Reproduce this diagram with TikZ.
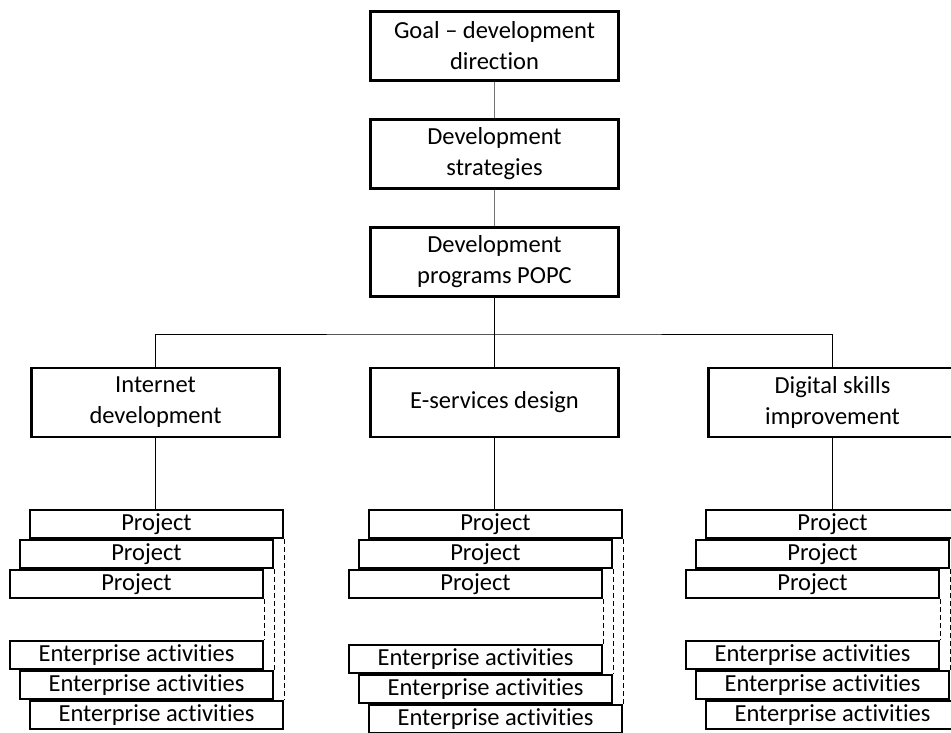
\documentclass[tikz,border=0pt]{standalone}
\usepackage{fontspec}
\setmainfont{Carlito}[Ligatures={TeX,NoCommon}]
\usetikzlibrary{positioning}

\begin{document}
\begin{tikzpicture}[x=1pt,y=-1pt]
\tikzset{box/.style={draw, line width=2.6pt, minimum width=248pt, minimum height=69pt, inner sep=0pt, align=center, font=\fontsize{24.5}{31}\selectfont}}
\tikzset{proj/.style={draw, fill=white, line width=2.2pt, minimum width=253pt, minimum height=28pt, inner sep=0pt, font=\fontsize{24.5}{28}\selectfont}}
\tikzset{link/.style={draw=black!55, line width=1pt}}
\tikzset{bus/.style={draw=black, line width=1pt}}
\tikzset{stack/.style={dash pattern=on 5pt off 3pt, line width=1.2pt}}

\useasboundingbox (0,0) rectangle (951,733);
\clip (0,0) rectangle (951,733);

\node[box] (goal) at (494.5,46) {Goal -- development\\direction};
\node[box] (strat) at (494.5,154) {Development\\strategies};
\node[box] (prog) at (494.5,262) {Development\\programs POPC};

\node[box] (inet) at (155.5,402.5) {Internet\\development};
\node[box] (eserv) at (494.5,402.5) {E-services design};
\node[box] (digit) at (832.5,402.5) {Digital skills\\improvement};

\node[proj] (ip1) at (156.5,524) {Project};
\node[proj] (ip2) at (146.5,554) {Project};
\node[proj] (ip3) at (136.5,584) {Project};
\node[proj] (ie1) at (136.5,655) {Enterprise activities};
\node[proj] (ie2) at (146.5,685) {Enterprise activities};
\node[proj] (ie3) at (156.5,715) {Enterprise activities};

\node[proj] (ep1) at (495.5,524) {Project};
\node[proj] (ep2) at (485.5,554) {Project};
\node[proj] (ep3) at (475.5,584) {Project};
\node[proj] (ee1) at (475.5,659) {Enterprise activities};
\node[proj] (ee2) at (485.5,689) {Enterprise activities};
\node[proj] (ee3) at (495.5,719) {Enterprise activities};

\node[proj] (dp1) at (832.5,524) {Project};
\node[proj] (dp2) at (822.5,554) {Project};
\node[proj] (dp3) at (812.5,584) {Project};
\node[proj] (de1) at (812.5,655) {Enterprise activities};
\node[proj] (de2) at (822.5,685) {Enterprise activities};
\node[proj] (de3) at (832.5,715) {Enterprise activities};

\coordinate (hub) at (494.5,334);
\draw[link] (goal) -- (strat);
\draw[link] (strat) -- (prog);
\draw[bus] (prog) -- (eserv);
\draw[bus] (inet.north) |- (hub) -| (digit.north);
\draw[bus] (inet.south) -- (inet.south |- ip1.north);
\draw[bus] (eserv.south) -- (eserv.south |- ep1.north);
\draw[bus] (digit.south) -- (digit.south |- dp1.north);

\draw[stack] (ip3.south east) -- (ie1.north east);
\draw[stack] (ip2.south east) -- (ie2.north east);
\draw[stack] (ip1.south east) -- (ie3.north east);
\draw[stack] (ep3.south east) -- (ee1.north east);
\draw[stack] (ep2.south east) -- (ee2.north east);
\draw[stack] (ep1.south east) -- (ee3.north east);
\draw[stack] (dp3.south east) -- (de1.north east);
\draw[stack] (dp2.south east) -- (de2.north east);
\draw[stack] (dp1.south east) -- (de3.north east);
\end{tikzpicture}
\end{document}
